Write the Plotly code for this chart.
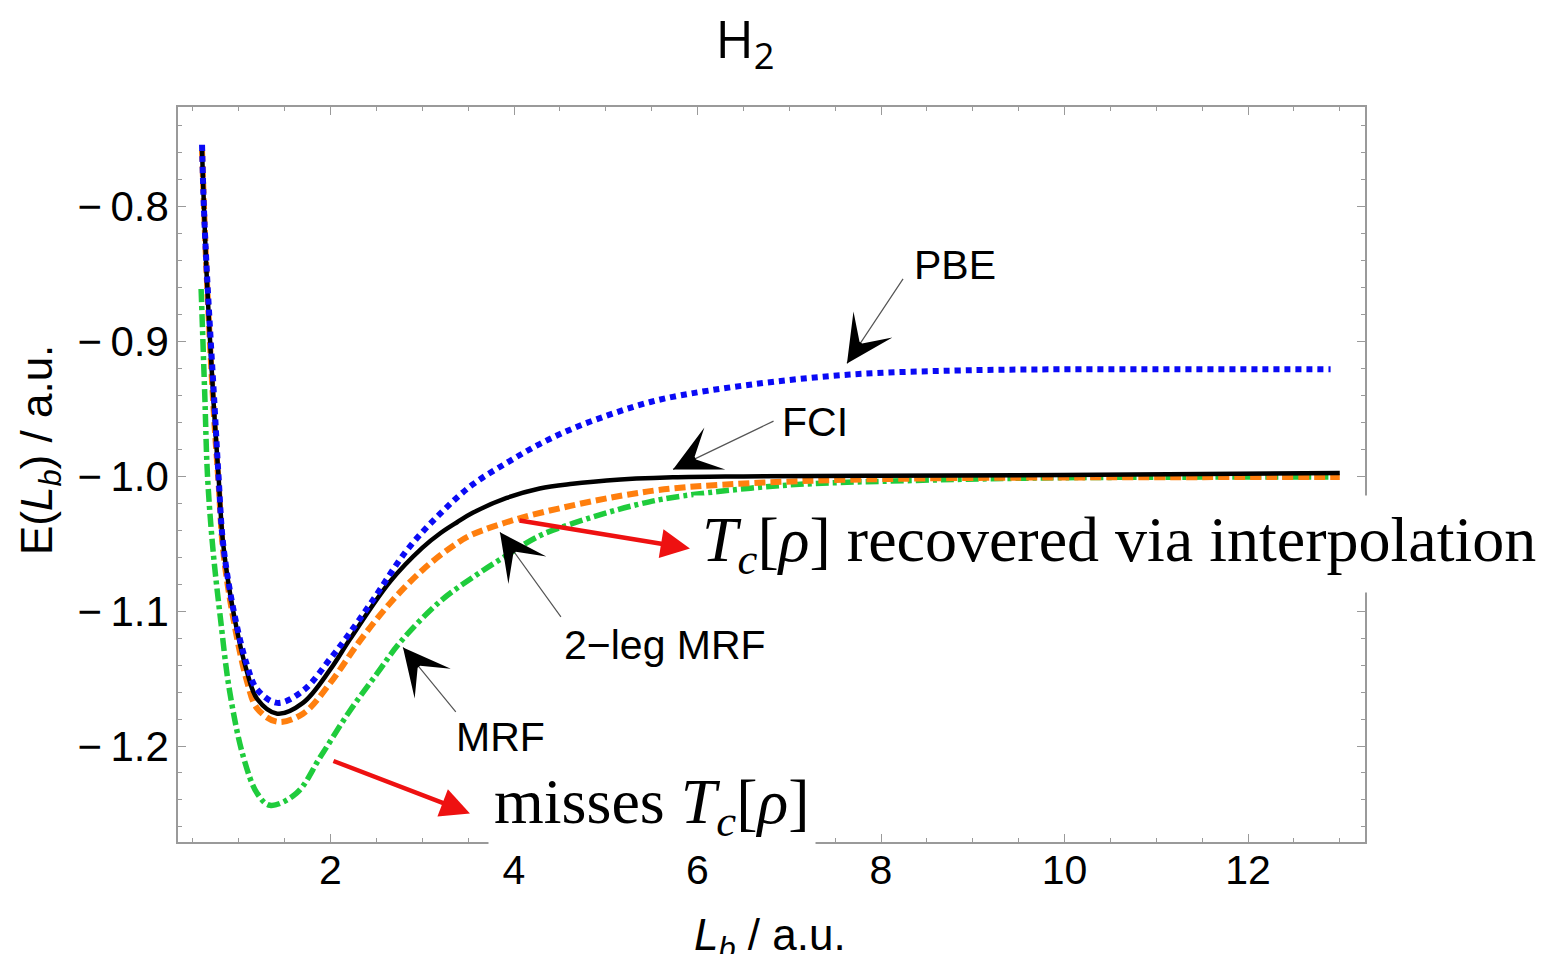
import plotly.graph_objects as go

# ---------------- data ----------------
pbe_x = [0.60, 0.62, 0.65, 0.69, 0.73, 0.78, 0.83, 0.94, 1.09, 1.20, 1.42, 1.70, 2.00, 2.18,
         2.46, 2.83, 3.19, 3.55, 3.92, 4.28, 4.64, 5.01, 5.37, 5.73, 6.57, 7.66, 8.80, 9.84, 12.90]
pbe_y = [-0.754, -0.800, -0.845, -0.894, -0.940, -1.000, -1.050, -1.098, -1.140, -1.158, -1.168,
         -1.159, -1.135, -1.119, -1.092, -1.055, -1.028, -1.006, -0.990, -0.976, -0.9645, -0.955,
         -0.947, -0.941, -0.932, -0.9245, -0.9215, -0.9206, -0.9206]

fci_x = [0.60, 0.65, 0.73, 0.78, 0.83, 0.94, 1.09, 1.20, 1.42, 1.70, 2.00, 2.21, 2.65, 3.00,
         3.20, 3.38, 3.55, 3.92, 4.28, 4.64, 5.01, 5.73, 6.50, 8.00, 10.00, 13.00]
fci_y = [-0.758, -0.850, -0.950, -1.000, -1.050, -1.100, -1.145, -1.165, -1.176, -1.168, -1.143,
         -1.121, -1.078, -1.053, -1.042, -1.034, -1.027, -1.016, -1.009, -1.0055, -1.003, -1.0007,
         -1.0000, -0.9995, -0.999, -0.9975]

mrf2_x = [0.60, 0.65, 0.73, 0.78, 0.83, 0.94, 1.09, 1.20, 1.42, 1.70, 2.00, 2.32, 2.65, 3.01,
          3.38, 3.55, 4.04, 4.64, 5.19, 5.73, 6.93, 8.50, 13.00]
mrf2_y = [-0.758, -0.850, -0.955, -1.005, -1.055, -1.105, -1.152, -1.172, -1.182, -1.176, -1.153,
          -1.122, -1.094, -1.069, -1.0495, -1.043, -1.0315, -1.0215, -1.0141, -1.0089, -1.004,
          -1.0015, -1.0005]

mrf_x = [0.59, 0.63, 0.66, 0.72, 0.80, 0.90, 1.05, 1.20, 1.34, 1.63, 1.89, 2.21, 2.51, 2.76,
         3.19, 3.55, 3.92, 4.28, 4.64, 5.01, 5.37, 5.73, 6.93, 8.39, 10.00, 13.00]
mrf_y = [-0.861, -0.940, -1.000, -1.055, -1.105, -1.159, -1.208, -1.235, -1.244, -1.235, -1.208,
         -1.174, -1.146, -1.123, -1.093, -1.0749, -1.0586, -1.044, -1.0349, -1.027, -1.0205,
         -1.0156, -1.0067, -1.003, -1.001, -1.0005]

x_ticks = [2, 4, 6, 8, 10, 12]
y_ticks = [-1.2, -1.1, -1.0, -0.9, -0.8]
y_tick_labels = ["\u2212\u20091.2", "\u2212\u20091.1", "\u2212\u20091.0", "\u2212\u20090.9", "\u2212\u20090.8"]

FRAME = "#9a9a9a"
SANS = "Liberation Sans, Arial, sans-serif"
SERIF = "Liberation Serif, Times New Roman, serif"

fig = go.Figure()
fig.add_trace(go.Scatter(x=mrf_x, y=mrf_y, mode="lines", line_shape="spline",
                         line=dict(color="#1fcc3c", width=5.5, dash="13px,4px,4px,4px"),
                         showlegend=False))
fig.add_trace(go.Scatter(x=mrf2_x, y=mrf2_y, mode="lines", line_shape="spline",
                         line=dict(color="#ff7f0e", width=6, dash="11px,5px"),
                         showlegend=False))
fig.add_trace(go.Scatter(x=fci_x, y=fci_y, mode="lines", line_shape="spline",
                         line=dict(color="black", width=4.5),
                         showlegend=False))
fig.add_trace(go.Scatter(x=pbe_x, y=pbe_y, mode="lines", line_shape="spline",
                         line=dict(color="#0a0af5", width=6, dash="6px,5px"),
                         showlegend=False))

annotations = []

# curve labels with thin grey leader + black arrowhead
labels = [
    # text, text x, text y, tip x, tip y, tail x, tail y, head offset (px)
    ("PBE", 8.81, -0.8435, 7.629, -0.9162, 8.251, -0.8524, (12, -18)),
    ("FCI", 7.28, -0.960, 5.733, -0.9948, 6.845, -0.9585, (20, -10)),
    ("2\u2212leg MRF", 5.65, -1.1254, 3.847, -1.0415, 4.523, -1.1053, (13, 18)),
    ("MRF", 3.85, -1.1936, 2.790, -1.1269, 3.379, -1.1758, (14, 17)),
]
for txt, tx, ty, hx, hy, sx, sy, (ox, oy) in labels:
    annotations.append(dict(x=tx, y=ty, xref="x", yref="y", text=txt, showarrow=False,
                            font=dict(family=SANS, size=41, color="black")))
    annotations.append(dict(x=hx, y=hy, xref="x", yref="y", ax=sx, ay=sy, axref="x", ayref="y",
                            text="", showarrow=True, arrowhead=0, arrowwidth=1.2,
                            arrowcolor="#555555"))
    annotations.append(dict(x=hx, y=hy, xref="x", yref="y", ax=ox, ay=oy,
                            text="", showarrow=True, arrowhead=3, arrowsize=5.2,
                            arrowwidth=1.5, arrowcolor="black"))

# red arrows
annotations.append(dict(x=5.918, y=-1.0534, xref="x", yref="y", ax=4.044, ay=-1.0326,
                        axref="x", ayref="y", text="", showarrow=True, arrowhead=2,
                        arrowsize=1.3, arrowwidth=4.5, arrowcolor="#ee1111"))
annotations.append(dict(x=3.520, y=-1.250, xref="x", yref="y", ax=2.016, ay=-1.2107,
                        axref="x", ayref="y", text="", showarrow=True, arrowhead=2,
                        arrowsize=1.3, arrowwidth=4.5, arrowcolor="#ee1111"))

# big serif notes with white boxes
annotations.append(dict(x=5.95, y=-1.050, xref="x", yref="y", xanchor="left", yanchor="middle",
                        text="<i>T</i><sub><i>c</i></sub>[<i>\u03c1</i>] recovered via interpolation",
                        showarrow=False, bgcolor="white", borderpad=8,
                        font=dict(family=SERIF, size=64, color="black")))
annotations.append(dict(x=3.72, y=-1.2445, xref="x", yref="y", xanchor="left", yanchor="middle",
                        text="misses <i>T</i><sub><i>c</i></sub>[<i>\u03c1</i>]",
                        showarrow=False, bgcolor="white", borderpad=5,
                        font=dict(family=SERIF, size=64, color="black")))

# axis titles (positions in paper coords of the plot area)
L, R, T, B = 178, 197, 107, 112
pw, ph = 1562 - L - R, 954 - T - B
annotations.append(dict(x=(10 - L) / pw, y=(954 - B - 450) / ph, xref="paper", yref="paper",
                        text="E(<i>L</i><sub><i>b</i></sub>) / a.u.", textangle=-90,
                        showarrow=False, font=dict(family=SANS, size=44, color="black")))
annotations.append(dict(x=(770 - L) / pw, y=(954 - B - 908) / ph, xref="paper", yref="paper",
                        yanchor="top", text="<i>L</i><sub><i>b</i></sub> / a.u.",
                        showarrow=False, font=dict(family=SANS, size=44, color="black")))

fig.update_layout(
    width=1562, height=954,
    margin=dict(l=L, r=R, t=T, b=B),
    paper_bgcolor="white", plot_bgcolor="white",
    title=dict(text="H<sub>2</sub>", x=745 / 1562, xanchor="center", y=1 - 40 / 954,
               yanchor="middle", font=dict(family="Open Sans, sans-serif", size=52, color="black")),
    xaxis=dict(range=[0.338, 13.275], tickvals=x_ticks, showgrid=False, zeroline=False,
               showline=True, linecolor=FRAME, linewidth=1.5, mirror="allticks",
               ticks="inside", ticklen=8, tickwidth=1.2, tickcolor=FRAME,
               tickfont=dict(family=SANS, size=41, color="black"), ticklabelstandoff=-9,
               minor=dict(dtick=0.5, tick0=0, ticks="inside", ticklen=4, tickcolor=FRAME,
                          tickwidth=1, showgrid=False)),
    yaxis=dict(range=[-1.2712, -0.726], tickvals=y_ticks, ticktext=y_tick_labels,
               showgrid=False, zeroline=False, showline=True, linecolor=FRAME, linewidth=1.5,
               mirror="allticks", ticks="inside", ticklen=8, tickwidth=1.2, tickcolor=FRAME,
               tickfont=dict(family=SANS, size=42, color="black"), ticklabelstandoff=-1,
               minor=dict(dtick=0.02, tick0=0, ticks="inside", ticklen=4, tickcolor=FRAME,
                          tickwidth=1, showgrid=False)),
    annotations=annotations,
)

fig.write_html("out.html")
